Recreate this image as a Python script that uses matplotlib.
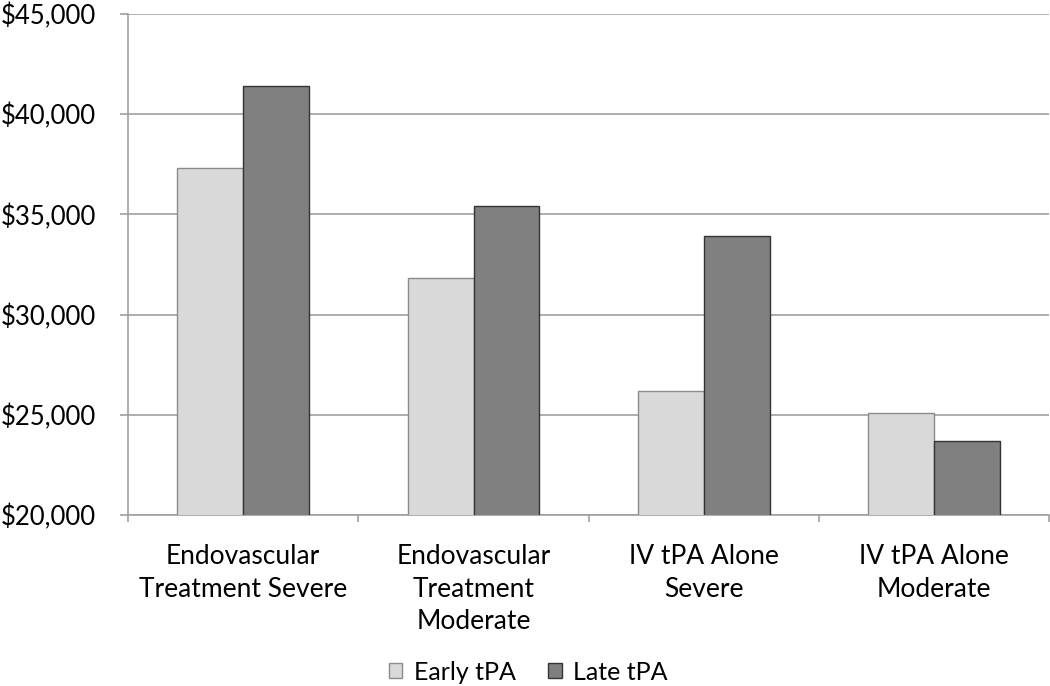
import matplotlib
matplotlib.use("Agg")
import matplotlib.pyplot as plt
import numpy as np
from matplotlib.ticker import FuncFormatter, MultipleLocator

categories = ["Endovascular\nTreatment Severe", "Endovascular\nTreatment\nModerate",
              "IV tPA Alone\nSevere", "IV tPA Alone\nModerate"]
early_tpa = [37300, 31850, 26200, 25100]
late_tpa = [41400, 35400, 33900, 23700]
series_names = ["Early tPA", "Late tPA"]

plt.rcParams['font.family'] = ['Lato', 'DejaVu Sans']

fig = plt.figure(figsize=(10.5, 6.86), dpi=100)
ax = fig.add_axes([128/1050, 1-515/686, 1-128/1050 - 0.0005, (515-14)/686])

x = np.arange(len(categories))
w = 0.286
ax.bar(x - w/2, early_tpa, w, color="#d9d9d9", edgecolor="#8c8c8c", linewidth=1, label=series_names[0], zorder=3)
ax.bar(x + w/2, late_tpa, w, color="#808080", edgecolor="#333333", linewidth=1, label=series_names[1], zorder=3)

ax.set_ylim(20000, 45000)
ax.set_xlim(-0.5, 3.5)
ax.yaxis.set_major_locator(MultipleLocator(5000))
ax.yaxis.set_major_formatter(FuncFormatter(lambda v, p: f"${v:,.0f}"))
ax.grid(axis='y', color="#a0a0a0", linewidth=1.2, zorder=0)
ax.tick_params(axis='y', length=5.8, width=1.2, color="#a0a0a0", labelsize=18.5, pad=17)

ax.set_xticks(np.arange(-0.5, 4.0, 1.0))
ax.set_xticklabels([])
ax.set_xticks(x, minor=True)
ax.set_xticklabels(categories, minor=True, fontsize=19, linespacing=1.38, va='top')
ax.tick_params(axis='x', which='major', length=5, width=1.2, color="#a0a0a0")
ax.tick_params(axis='x', which='minor', length=0, pad=21)

for s in ['top', 'right']:
    ax.spines[s].set_visible(False)
for s in ['left', 'bottom']:
    ax.spines[s].set_color("#a0a0a0")
    ax.spines[s].set_linewidth(1.2)

h, l = ax.get_legend_handles_labels()
fig.legend(h, l, loc='center', bbox_to_anchor=(528/1050, 1-672/686), ncol=2, frameon=False,
           fontsize=18, handlelength=0.55, handleheight=0.55, handletextpad=0.45, columnspacing=1.3)

fig.savefig("out.png", dpi=100)
